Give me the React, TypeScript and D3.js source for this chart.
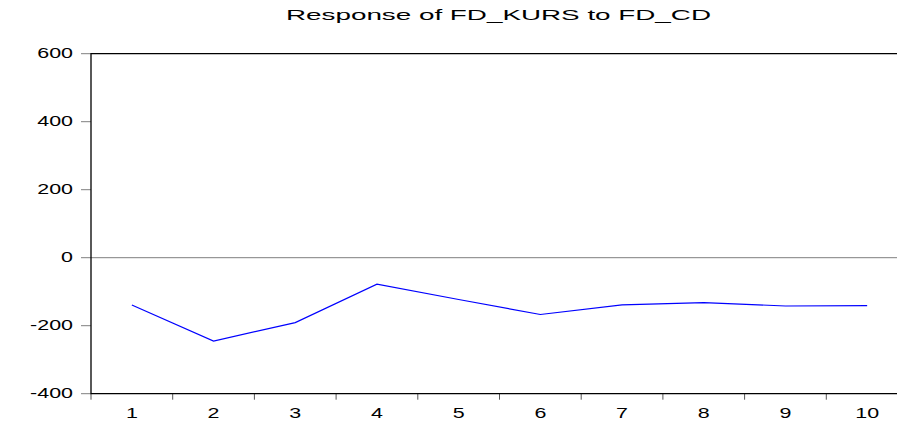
import { useEffect, useRef } from 'react';
import * as d3 from 'd3';

const title = 'Response of FD_KURS to FD_CD';
const periods = [1, 2, 3, 4, 5, 6, 7, 8, 9, 10];
const response = [-139, -245, -191, -78, -123, -167, -139, -132, -142, -141];
const yTicks = [-400, -200, 0, 200, 400, 600];

function App() {
	const ref = useRef<SVGSVGElement | null>(null);

	useEffect(() => {
		const width = 897;
		const height = 421;
		const margin = { top: 53.7, right: -11, bottom: 27.3, left: 91 };
		const innerW = width - margin.left - margin.right;
		const innerH = height - margin.top - margin.bottom;
		const sx = 1.43;

		const svg = d3.select(ref.current);
		svg.selectAll('*').remove();

		const g = svg.append('g').attr('transform', `translate(${margin.left},${margin.top})`);

		const xScale = d3.scaleBand<number>().domain(periods).range([0, innerW]);
		const yScale = d3.scaleLinear().domain([-400, 600]).range([innerH, 0]);

		// zero line
		g.append('line')
			.attr('x1', 0)
			.attr('x2', innerW)
			.attr('y1', yScale(0))
			.attr('y2', yScale(0))
			.attr('stroke', '#7f7f7f')
			.attr('stroke-width', 1);

		// y ticks + labels
		yTicks.forEach(t => {
			g.append('line')
				.attr('x1', -10)
				.attr('x2', 0)
				.attr('y1', yScale(t))
				.attr('y2', yScale(t))
				.attr('stroke', '#7f7f7f');
			g.append('text')
				.attr('transform', `translate(-18,${yScale(t) + 4}) scale(${sx},1)`)
				.attr('text-anchor', 'end')
				.attr('font-family', 'Liberation Sans, Arial, sans-serif')
				.attr('font-size', 15)
				.attr('fill', '#000')
				.text(t);
		});

		// x ticks between categories
		d3.range(periods.length + 1).forEach(i => {
			const x = i * xScale.step();
			g.append('line')
				.attr('x1', x)
				.attr('x2', x)
				.attr('y1', innerH)
				.attr('y2', innerH + 6)
				.attr('stroke', '#555');
		});
		periods.forEach(p => {
			g.append('text')
				.attr('transform', `translate(${(xScale(p) ?? 0) + xScale.bandwidth() / 2},${innerH + 24}) scale(${sx},1)`)
				.attr('text-anchor', 'middle')
				.attr('font-family', 'Liberation Sans, Arial, sans-serif')
				.attr('font-size', 15)
				.attr('fill', '#000')
				.text(p);
		});

		// frame
		g.append('path')
			.attr('d', `M${innerW},0H0V${innerH}H${innerW}`)
			.attr('fill', 'none')
			.attr('stroke', '#000')
			.attr('stroke-width', 1.3);

		const line = d3
			.line<number>()
			.x((_, i) => (xScale(periods[i]) ?? 0) + xScale.bandwidth() / 2)
			.y(d => yScale(d));

		g.append('path')
			.datum(response)
			.attr('fill', 'none')
			.attr('stroke', '#0000ff')
			.attr('stroke-width', 1.2)
			.attr('d', line);

		svg.append('text')
			.attr('x', 286)
			.attr('y', 20)
			.attr('textLength', 425)
			.attr('lengthAdjust', 'spacingAndGlyphs')
			.attr('font-family', 'Liberation Sans, Arial, sans-serif')
			.attr('font-size', 15)
			.attr('fill', '#000')
			.text(title);
	}, []);

	return (
		<svg
			ref={ref}
			width={897}
			height={421}
			style={{ position: 'absolute', left: 0, top: 0, background: '#fff' }}
		/>
	);
}

export default App;
